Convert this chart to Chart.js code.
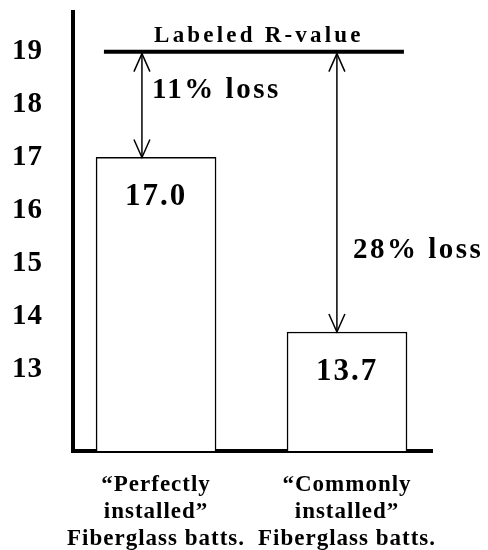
<!DOCTYPE html>
<html>
<head>
<meta charset="utf-8">
<script src="https://cdn.jsdelivr.net/npm/chart.js@4"></script>
<style>
  html, body { margin: 0; padding: 0; background: #fff; }
  #wrap { width: 488px; height: 550px; }
</style>
</head>
<body>
<div id="wrap"><canvas id="myChart"></canvas></div>
<script>
const categories = [
  ["\u201CPerfectly", "installed\u201D", "Fiberglass batts."],
  ["\u201CCommonly", "installed\u201D", "Fiberglass batts."],
];
const rValues = [17.0, 13.7];
const labeledR = 19;
const lossPercent = [11, 28];
const yTicks = [13, 14, 15, 16, 17, 18, 19];

const serif = "'Liberation Serif', 'Times New Roman', serif";

function drawText(ctx, str, x, y, size, spacing, align) {
  ctx.font = "bold " + size + "px " + serif;
  ctx.letterSpacing = spacing + "px";
  ctx.textAlign = align || "center";
  ctx.textBaseline = "middle";
  ctx.fillStyle = "#000";
  ctx.fillText(str, x, y);
}

function arrowHead(ctx, x, tipY, dir) {
  // dir = -1 pointing up, +1 pointing down
  ctx.beginPath();
  ctx.moveTo(x - 8, tipY - dir * 18);
  ctx.lineTo(x, tipY);
  ctx.lineTo(x + 8, tipY - dir * 18);
  ctx.stroke();
}

// stop the scales from adding room for their labels around the chart area
function noPadding(scale) {
  scale.paddingTop = 0;
  scale.paddingBottom = 0;
  scale.paddingLeft = 0;
  scale.paddingRight = 0;
}

const annotations = {
  id: "annotations",
  beforeDraw(chart) {
    chart.ctx.letterSpacing = "1px";
  },
  afterDatasetsDraw(chart, args, opts) {
    const { ctx } = chart;
    const x = chart.scales.x;
    const y = chart.scales.y;
    const meta = chart.getDatasetMeta(0);
    const yRef = y.getPixelForValue(labeledR);
    const x1 = x.getPixelForValue(opts.lineFrom);
    const x2 = x.getPixelForValue(opts.lineTo);

    ctx.save();
    ctx.strokeStyle = "#000";
    ctx.lineWidth = 4;
    ctx.beginPath();
    ctx.moveTo(x1, yRef);
    ctx.lineTo(x2, yRef);
    ctx.stroke();

    drawText(ctx, "Labeled R-value", (x1 + x2) / 2 + 5, yRef - 16, 23, 3.2);

    ctx.lineWidth = 1.5;
    rValues.forEach((v, i) => {
      const ax = x.getPixelForValue(opts.arrowX[i]);
      const yv = y.getPixelForValue(v);
      ctx.beginPath();
      ctx.moveTo(ax, yRef + 2);
      ctx.lineTo(ax, yv);
      ctx.stroke();
      arrowHead(ctx, ax, yRef + 2, -1);
      arrowHead(ctx, ax, yv, 1);

      const bar = meta.data[i];
      drawText(ctx, v.toFixed(1), bar.x, bar.y + 40, 31, 2);
      drawText(ctx, lossPercent[i] + "% loss", ax + opts.lossDx[i], yRef + opts.lossDy[i], 29, 2.5, "left");
    });
    ctx.restore();
  },
};

const ctx = document.getElementById("myChart");
const myChart = new Chart(ctx, {
  type: "bar",
  data: {
    datasets: [
      {
        data: rValues.map((v, i) => ({ x: i, y: v })),
        backgroundColor: "#ffffff",
        borderColor: "#000000",
        borderWidth: 1.5,
        barThickness: 120,
      },
    ],
  },
  options: {
    responsive: true,
    maintainAspectRatio: false,
    animation: false,
    layout: { padding: { top: 12, right: 56, left: 0, bottom: 0 } },
    plugins: {
      legend: { display: false },
      tooltip: { enabled: false },
      annotations: {
        lineFrom: -0.273,
        lineTo: 1.298,
        arrowX: [-0.074, 0.947],
        lossDx: [10, 16],
        lossDy: [39, 199],
      },
    },
    scales: {
      x: {
        type: "linear",
        min: -0.435,
        max: 1.445,
        offset: false,
        grid: { display: false, drawTicks: false, offset: false },
        border: { display: true, color: "#000", width: 4 },
        afterBuildTicks: (axis) => {
          axis.ticks = categories.map((c, i) => ({ value: i }));
        },
        afterFit: (scale) => {
          scale.height = 99;
          noPadding(scale);
        },
        ticks: {
          padding: 21,
          color: "#000",
          maxRotation: 0,
          autoSkip: false,
          font: { family: serif, size: 23, weight: "bold", lineHeight: 1.17 },
          callback: (value) => categories[value],
        },
      },
      y: {
        min: 11.45,
        max: 19.75,
        grid: { display: false, drawTicks: false },
        border: { display: true, color: "#000", width: 4 },
        afterBuildTicks: (axis) => {
          axis.ticks = yTicks.map((v) => ({ value: v }));
        },
        afterFit: (scale) => {
          scale.width = 73;
          noPadding(scale);
        },
        ticks: {
          padding: 30,
          color: "#000",
          font: { family: serif, size: 29, weight: "bold" },
          callback: (value) => String(value),
        },
      },
    },
  },
  plugins: [annotations],
});
</script>
</body>
</html>
